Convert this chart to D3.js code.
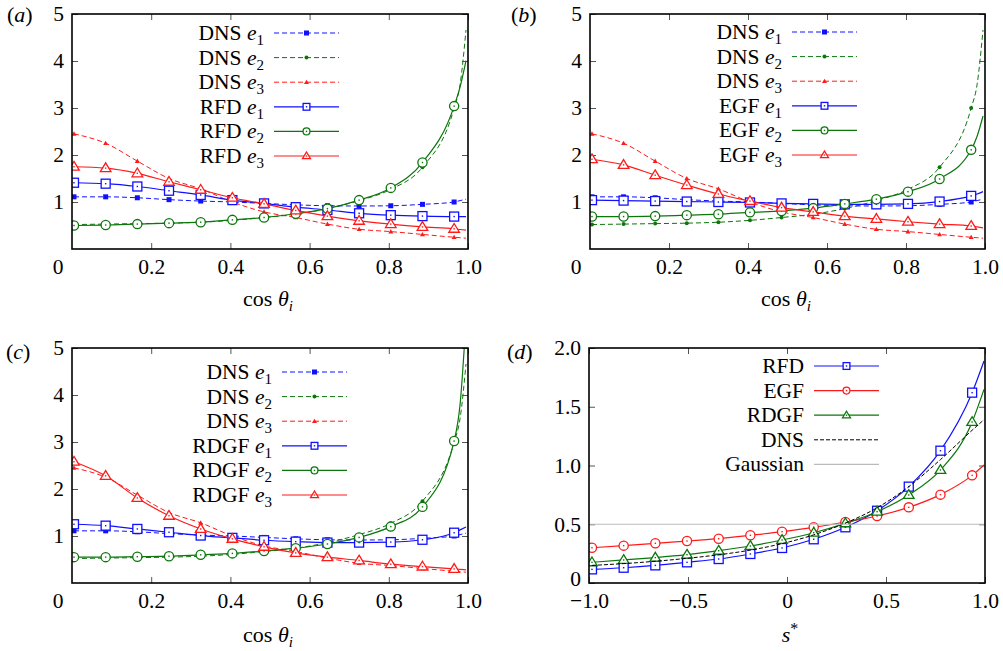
<!DOCTYPE html>
<html>
<head>
<meta charset="utf-8">
<script src="https://cdn.jsdelivr.net/npm/d3@7"></script>
<style>
body { margin: 0; background: #fff; }
text { font-family: "Liberation Serif", "Times New Roman", serif; fill: #000; }
</style>
</head>
<body>
<div id="root"></div>
<script>
// x positions for the cos(theta) panels (markers on the first 13)
var xCos = [0.005, 0.085, 0.165, 0.245, 0.325, 0.405, 0.485, 0.565, 0.645, 0.725, 0.805, 0.885, 0.965, 0.98, 0.995];
var dnsE1 = [1.11, 1.11, 1.09, 1.05, 1.02, 1.0, 0.97, 0.94, 0.92, 0.915, 0.92, 0.95, 1.0, 1.03, 1.06];
var dnsE2 = [0.52, 0.53, 0.54, 0.55, 0.57, 0.61, 0.67, 0.74, 0.86, 1.03, 1.27, 1.74, 3.0, 3.5, 4.66];
var dnsE3 = [2.45, 2.25, 1.87, 1.50, 1.28, 1.0, 0.79, 0.67, 0.53, 0.42, 0.37, 0.31, 0.25, 0.24, 0.23];
var rfdE1 = [1.41, 1.39, 1.33, 1.24, 1.15, 1.04, 0.97, 0.89, 0.83, 0.76, 0.72, 0.70, 0.69, 0.69, 0.69];
var rfdE2 = [0.50, 0.51, 0.53, 0.55, 0.57, 0.62, 0.67, 0.75, 0.86, 1.04, 1.30, 1.84, 3.04, 3.45, 4.01];
var rfdE3 = [1.75, 1.72, 1.61, 1.43, 1.26, 1.09, 0.96, 0.82, 0.70, 0.60, 0.53, 0.47, 0.43, 0.415, 0.40];
var egfE1 = [1.04, 1.03, 1.02, 1.01, 1.0, 0.99, 0.97, 0.96, 0.95, 0.95, 0.96, 1.01, 1.13, 1.17, 1.22];
var egfE2 = [0.69, 0.69, 0.70, 0.72, 0.74, 0.78, 0.81, 0.87, 0.96, 1.06, 1.22, 1.49, 2.11, 2.4, 2.83];
var egfE3 = [1.91, 1.79, 1.57, 1.36, 1.17, 1.02, 0.88, 0.79, 0.70, 0.64, 0.58, 0.53, 0.49, 0.47, 0.45];
var rdgfE1 = [1.25, 1.22, 1.15, 1.08, 1.01, 0.96, 0.91, 0.88, 0.86, 0.86, 0.87, 0.92, 1.07, 1.13, 1.19];
var rdgfE2 = [0.55, 0.55, 0.56, 0.57, 0.60, 0.63, 0.68, 0.74, 0.83, 0.97, 1.20, 1.62, 3.02, 3.8, 5.6];
var rdgfE3 = [2.58, 2.28, 1.81, 1.43, 1.15, 0.94, 0.77, 0.64, 0.55, 0.48, 0.40, 0.35, 0.30, 0.29, 0.28];

// panel (d): s*
var xS = [-0.985, -0.825, -0.665, -0.505, -0.345, -0.185, -0.025, 0.135, 0.295, 0.455, 0.615, 0.775, 0.935, 0.995];
var sDns = [0.15, 0.165, 0.185, 0.21, 0.24, 0.28, 0.335, 0.41, 0.51, 0.64, 0.82, 1.05, 1.30, 1.39];
var sRfd = [0.116, 0.130, 0.150, 0.176, 0.204, 0.247, 0.298, 0.372, 0.474, 0.615, 0.820, 1.126, 1.62, 1.89];
var sEgf = [0.30, 0.318, 0.338, 0.357, 0.377, 0.406, 0.437, 0.474, 0.519, 0.570, 0.644, 0.752, 0.916, 1.004];
var sRdgf = [0.176, 0.196, 0.216, 0.241, 0.275, 0.315, 0.366, 0.428, 0.508, 0.607, 0.749, 0.962, 1.370, 1.648];
var xGauss = [-1, 1];
var yGauss = [0.5, 0.5];

var cosTicksX = [0.2, 0.4, 0.6, 0.8, 1.0];
var cosTicksY = [1, 2, 3, 4, 5];
var sTicksX = [-1, -0.5, 0, 0.5, 1];
var sTicksY = [0, 0.5, 1, 1.5, 2];

var blue = '#1010ff', green = '#0c760c', red = '#ff1a1a';
var w = 1003, h = 651;
var fs = 21.5;

var svg = d3.select('#root').append('svg')
  .attr('width', w)
  .attr('height', h);

var drawMarker = function(g, type, cx, cy, color, k) {
  k = k || 1;
  var a = 4.5 * k, r = 4.6 * k, t = 5.3 * k;
  if (type === 'sq') {
    g.append('rect').attr('x', cx - a).attr('y', cy - a).attr('width', 2 * a).attr('height', 2 * a)
      .attr('fill', '#fff').attr('stroke', color).attr('stroke-width', 1.3);
  } else if (type === 'ci') {
    g.append('circle').attr('cx', cx).attr('cy', cy).attr('r', r)
      .attr('fill', '#fff').attr('stroke', color).attr('stroke-width', 1.3);
  } else if (type === 'tr') {
    g.append('path').attr('d', 'M' + cx + ',' + (cy - t) + 'L' + (cx + t) + ',' + (cy + t * 0.65) + 'L' + (cx - t) + ',' + (cy + t * 0.65) + 'Z')
      .attr('fill', '#fff').attr('stroke', color).attr('stroke-width', 1.3);
  } else if (type === 'fsq') {
    g.append('rect').attr('x', cx - 2.5).attr('y', cy - 2.5).attr('width', 5).attr('height', 5).attr('fill', color);
    return;
  } else if (type === 'fci') {
    g.append('circle').attr('cx', cx).attr('cy', cy).attr('r', 2).attr('fill', color);
    return;
  } else if (type === 'ftr') {
    g.append('path').attr('d', 'M' + cx + ',' + (cy - 2.5) + 'L' + (cx + 2.5) + ',' + (cy + 1.8) + 'L' + (cx - 2.5) + ',' + (cy + 1.8) + 'Z')
      .attr('fill', color);
    return;
  } else {
    return;
  }
  // centre dot of gnuplot open points
  g.append('rect').attr('x', cx - 0.7).attr('y', cy - 0.7).attr('width', 1.4).attr('height', 1.4).attr('fill', color);
};

var addLabel = function(t, parts) {
  parts.forEach(function(p) {
    var s = t.append('tspan').text(p.t);
    if (p.i) s.attr('font-style', 'italic');
    if (p.sz) s.attr('font-size', p.sz);
    if (p.dy) s.attr('dy', p.dy);
  });
};

var drawPanel = function(p, idx) {
  var x0 = p.box[0], x1 = p.box[1], y0 = p.box[2], y1 = p.box[3];
  var x = d3.scaleLinear().domain(p.xDomain).range([x0, x1]);
  var y = d3.scaleLinear().domain(p.yDomain).range([y1, y0]);
  var g = svg.append('g').attr('id', 'panel_' + idx);

  // ticks (inward, mirrored)
  var ax = g.append('g').attr('transform', 'translate(0,' + y1 + ')')
    .call(d3.axisBottom(x).tickValues(p.xTicks).tickSize(-6).tickPadding(10).tickFormat(p.fmtX));
  var axT = g.append('g').attr('transform', 'translate(0,' + y0 + ')')
    .call(d3.axisTop(x).tickValues(p.xTicks).tickSize(-6).tickFormat(''));
  var ay = g.append('g').attr('transform', 'translate(' + x0 + ',0)')
    .call(d3.axisLeft(y).tickValues(p.yTicks).tickSize(-6).tickPadding(8).tickFormat(p.fmtY));
  var ayR = g.append('g').attr('transform', 'translate(' + x1 + ',0)')
    .call(d3.axisRight(y).tickValues(p.yTicks).tickSize(-6).tickFormat(''));
  [ax, axT, ay, ayR].forEach(function(a) {
    a.select('.domain').remove();
    a.selectAll('line').attr('stroke', '#555').attr('stroke-width', 1);
    a.selectAll('text').attr('font-size', fs).attr('font-family', '"Liberation Serif", serif').attr('fill', '#000');
  });
  // the y = 0 label in (d) sits a little high so it clears the x labels
  ay.selectAll('.tick').filter(function(d) { return d === 0; })
    .select('text').attr('dy', '0.1em');
  if (p.cornerZero) {
    g.append('text').attr('x', x0 - 14).attr('y', y1 + 25).attr('text-anchor', 'middle')
      .attr('font-size', fs).text('0');
  }

  // curves
  var clipId = 'clip' + idx;
  g.append('clipPath').attr('id', clipId).append('rect')
    .attr('x', x0).attr('y', y0).attr('width', x1 - x0).attr('height', y1 - y0);
  var plot = g.append('g').attr('clip-path', 'url(#' + clipId + ')');
  var line = d3.line()
    .x(function(d) { return x(d[0]); })
    .y(function(d) { return y(d[1]); })
    .curve(d3.curveMonotoneX);
  p.series.forEach(function(s) {
    var pts = s.xs.map(function(v, i) { return [v, s.ys[i]]; });
    plot.append('path')
      .attr('d', line(pts))
      .attr('fill', 'none')
      .attr('stroke', s.color)
      .attr('stroke-width', s.width || 1.2)
      .attr('stroke-dasharray', s.dash || null);
    pts.slice(0, s.nMark || 0).forEach(function(d) {
      drawMarker(plot, s.marker, x(d[0]), y(d[1]), s.color);
    });
  });

  // frame
  g.append('rect').attr('x', x0).attr('y', y0).attr('width', x1 - x0).attr('height', y1 - y0)
    .attr('fill', 'none').attr('stroke', '#000').attr('stroke-width', 1.6);

  // legend
  var lx = x0 + p.legend[0], ly = y0 + p.legend[1], step = 24.6;
  p.series.forEach(function(s, i) {
    var ry = ly + i * step;
    var t = g.append('text').attr('x', lx - 10).attr('y', ry + 7)
      .attr('text-anchor', 'end').attr('font-size', fs);
    addLabel(t, s.label);
    g.append('line').attr('x1', lx).attr('x2', lx + 65).attr('y1', ry).attr('y2', ry)
      .attr('stroke', s.color).attr('stroke-width', s.width || 1.2)
      .attr('stroke-dasharray', s.dash || null);
    drawMarker(g, s.marker, lx + 32.5, ry, s.color, 0.75);
  });

  // axis title and panel tag
  var tt = g.append('text').attr('x', p.titlePos[0]).attr('y', p.titlePos[1])
    .attr('text-anchor', 'middle').attr('font-size', 22);
  addLabel(tt, p.title);
  var tg = g.append('text').attr('x', p.tagPos[0]).attr('y', p.tagPos[1]).attr('font-size', 22);
  addLabel(tg, [{t: '('}, {t: p.tag, i: true}, {t: ')'}]);
};

var fmtPlain = function(d) { return d === 1 ? '1.0' : String(d); };
var fmtInt = function(d) { return String(d); };
var fmtOne = function(d) { return d === 0 ? '0' : d3.format('.1f')(d); };
var cosTitle = [{t: 'cos '}, {t: 'θ', i: true}, {t: 'i', i: true, sz: 15, dy: 5}];
var eLab = function(name, n) {
  return [{t: name + ' '}, {t: 'e', i: true}, {t: n, sz: 15, dy: 5}];
};
var dnsSeries = [
  {xs: xCos, ys: dnsE1, color: blue, dash: '5,3', marker: 'fsq', nMark: 13, width: 1, label: eLab('DNS', '1')},
  {xs: xCos, ys: dnsE2, color: green, dash: '5,3', marker: 'fci', nMark: 13, width: 1, label: eLab('DNS', '2')},
  {xs: xCos, ys: dnsE3, color: red, dash: '5,3', marker: 'ftr', nMark: 13, width: 1, label: eLab('DNS', '3')}
];
var modelSeries = function(name, a, b, c) {
  return [
    {xs: xCos, ys: a, color: blue, marker: 'sq', nMark: 13, label: eLab(name, '1')},
    {xs: xCos, ys: b, color: green, marker: 'ci', nMark: 13, label: eLab(name, '2')},
    {xs: xCos, ys: c, color: red, marker: 'tr', nMark: 13, label: eLab(name, '3')}
  ];
};

var panels = [
  {box: [72, 468, 14, 249], xDomain: [0, 1], yDomain: [0, 5], xTicks: cosTicksX, yTicks: cosTicksY,
    fmtX: fmtPlain, fmtY: fmtInt, cornerZero: true, legend: [202, 19],
    series: dnsSeries.concat(modelSeries('RFD', rfdE1, rfdE2, rfdE3)),
    title: cosTitle, titlePos: [268, 306], tag: 'a', tagPos: [7, 22]},
  {box: [590, 985, 14, 249], xDomain: [0, 1], yDomain: [0, 5], xTicks: cosTicksX, yTicks: cosTicksY,
    fmtX: fmtPlain, fmtY: fmtInt, cornerZero: true, legend: [202, 18],
    series: dnsSeries.concat(modelSeries('EGF', egfE1, egfE2, egfE3)),
    title: cosTitle, titlePos: [786, 306], tag: 'b', tagPos: [511, 22]},
  {box: [72, 468, 348, 583], xDomain: [0, 1], yDomain: [0, 5], xTicks: cosTicksX, yTicks: cosTicksY,
    fmtX: fmtPlain, fmtY: fmtInt, cornerZero: true, legend: [210, 24],
    series: dnsSeries.concat(modelSeries('RDGF', rdgfE1, rdgfE2, rdgfE3)),
    title: cosTitle, titlePos: [268, 642], tag: 'c', tagPos: [6, 359]},
  {box: [589, 985, 348, 583], xDomain: [-1, 1], yDomain: [0, 2], xTicks: sTicksX, yTicks: sTicksY,
    fmtX: fmtOne, fmtY: fmtOne, cornerZero: false, legend: [225, 18],
    series: [
      {xs: xS, ys: sRfd, color: blue, marker: 'sq', nMark: 13, label: [{t: 'RFD'}]},
      {xs: xS, ys: sEgf, color: red, marker: 'ci', nMark: 13, label: [{t: 'EGF'}]},
      {xs: xS, ys: sRdgf, color: green, marker: 'tr', nMark: 13, label: [{t: 'RDGF'}]},
      {xs: xS, ys: sDns, color: '#000', dash: '4,2', marker: 'none', nMark: 0, width: 1, label: [{t: 'DNS'}]},
      {xs: xGauss, ys: yGauss, color: '#bbb', marker: 'none', nMark: 0, width: 1.2, label: [{t: 'Gaussian'}]}
    ],
    title: [{t: 's', i: true}, {t: '*', sz: 16, dy: -8}], titlePos: [790, 642], tag: 'd', tagPos: [507, 359]}
];
panels.forEach(drawPanel);
</script>
</body>
</html>
